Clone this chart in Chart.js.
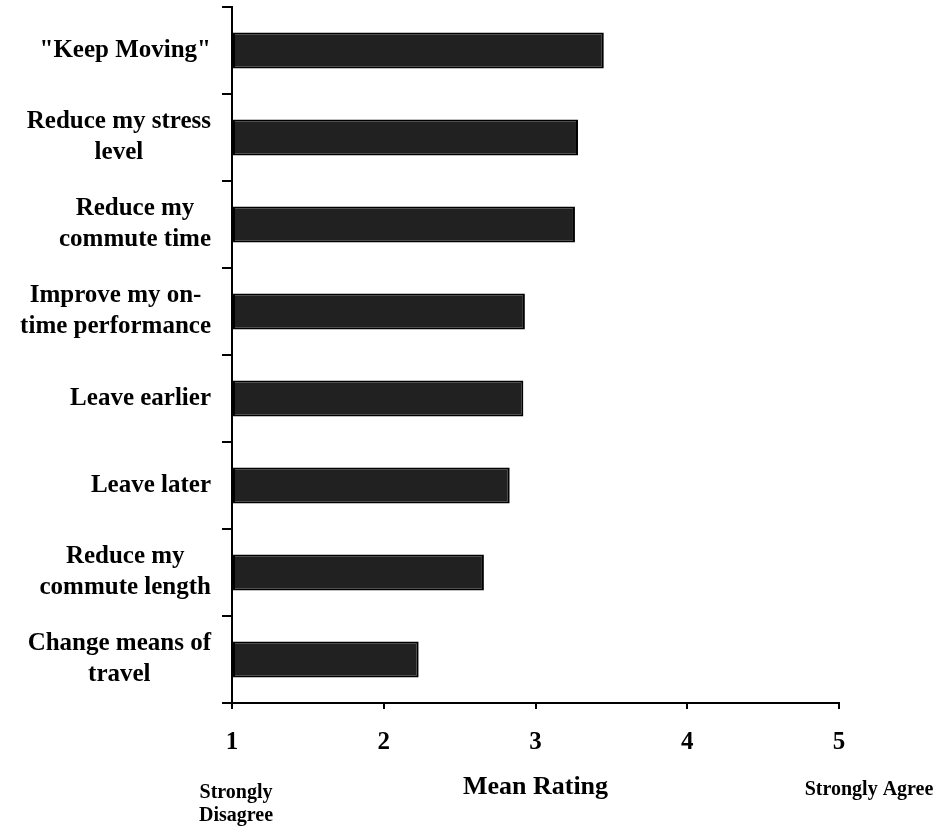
<!DOCTYPE html>
<html>
<head>
<meta charset="utf-8">
<script src="https://cdn.jsdelivr.net/npm/chart.js@4/dist/chart.umd.min.js"></script>
<style>
  html, body { margin: 0; padding: 0; background: #fff; }
  #wrap { width: 939px; height: 831px; }
</style>
</head>
<body>
<div id="wrap"><canvas id="chart"></canvas></div>
<script>
// categories (top to bottom), each as lines of text
const categories = [
  ['"Keep Moving"'],
  ['Reduce my stress', 'level'],
  ['Reduce my', 'commute time'],
  ['Improve my on-', 'time performance'],
  ['Leave earlier'],
  ['Leave later'],
  ['Reduce my', 'commute length'],
  ['Change means of', 'travel']
];
const meanRatings = [3.45, 3.28, 3.26, 2.93, 2.92, 2.83, 2.66, 2.23];
const xTicks = [1, 2, 3, 4, 5];
const endLabels = { low: ['Strongly', 'Disagree'], high: ['Strongly Agree'] };

const SERIF = '"Liberation Serif", "Times New Roman", serif';

// draws the category labels: block right-aligned, lines centred inside
const categoryLabels = {
  id: 'categoryLabels',
  afterDraw(chart) {
    const ctx = chart.ctx;
    const y = chart.scales.y;
    ctx.save();
    ctx.font = 'bold 25px ' + SERIF;
    ctx.fillStyle = '#000';
    ctx.textAlign = 'center';
    ctx.textBaseline = 'middle';
    const lineH = 31;
    categories.forEach(function(lines, i) {
      const w = Math.max.apply(null, lines.map(function(l) { return ctx.measureText(l).width; }));
      const cx = 211 - w / 2;
      const cy = y.getPixelForValue(i);
      const y0 = cy - (lines.length - 1) * lineH / 2;
      lines.forEach(function(l, j) { ctx.fillText(l, cx, y0 + j * lineH); });
    });
    ctx.restore();
  }
};

// "Strongly Disagree" / "Strongly Agree" under the axis ends
const scaleEnds = {
  id: 'scaleEnds',
  afterDraw(chart) {
    const ctx = chart.ctx;
    const x = chart.scales.x;
    ctx.save();
    ctx.font = 'bold 20px ' + SERIF;
    ctx.fillStyle = '#000';
    ctx.textAlign = 'center';
    ctx.textBaseline = 'middle';
    const lx = x.getPixelForValue(xTicks[0]) + 4;
    endLabels.low.forEach(function(l, j) { ctx.fillText(l, lx, 793 + j * 23); });
    const rx = x.getPixelForValue(xTicks[xTicks.length - 1]) + 30;
    endLabels.high.forEach(function(l, j) { ctx.fillText(l, rx, 790 + j * 23); });
    ctx.restore();
  }
};

const ctx = document.getElementById('chart').getContext('2d');
new Chart(ctx, {
  type: 'bar',
  data: {
    labels: categories,
    datasets: [{
      data: meanRatings,
      base: 1,
      backgroundColor: '#212121',
      borderColor: '#000',
      borderWidth: 2,
      borderSkipped: false,
      barPercentage: 0.415,
      categoryPercentage: 1
    }]
  },
  options: {
    indexAxis: 'y',
    responsive: true,
    maintainAspectRatio: false,
    animation: false,
    layout: { padding: { top: 7, right: 100, left: 0, bottom: 0 } },
    plugins: { legend: { display: false }, tooltip: { enabled: false } },
    scales: {
      x: {
        type: 'linear',
        min: 1,
        max: 5,
        afterBuildTicks(scale) { scale.ticks = xTicks.map(function(v) { return { value: v }; }); },
        afterFit(scale) { scale.height = 128; },
        border: { display: true, color: '#000', width: 2 },
        grid: { drawOnChartArea: false, drawTicks: true, tickLength: 6, color: '#000', lineWidth: 2 },
        ticks: {
          padding: 19,
          color: '#000',
          font: { family: SERIF, size: 25, weight: 'bold' }
        },
        title: {
          display: true,
          text: 'Mean Rating',
          color: '#000',
          font: { family: SERIF, size: 26, weight: 'bold' },
          padding: { top: 0, bottom: 28 }
        }
      },
      y: {
        afterFit(scale) { scale.width = 232; },
        border: { display: true, color: '#000', width: 2 },
        grid: { drawOnChartArea: false, drawTicks: true, tickLength: 10, color: '#000', lineWidth: 2, offset: true },
        ticks: { display: false }
      }
    }
  },
  plugins: [categoryLabels, scaleEnds]
});
</script>
</body>
</html>
